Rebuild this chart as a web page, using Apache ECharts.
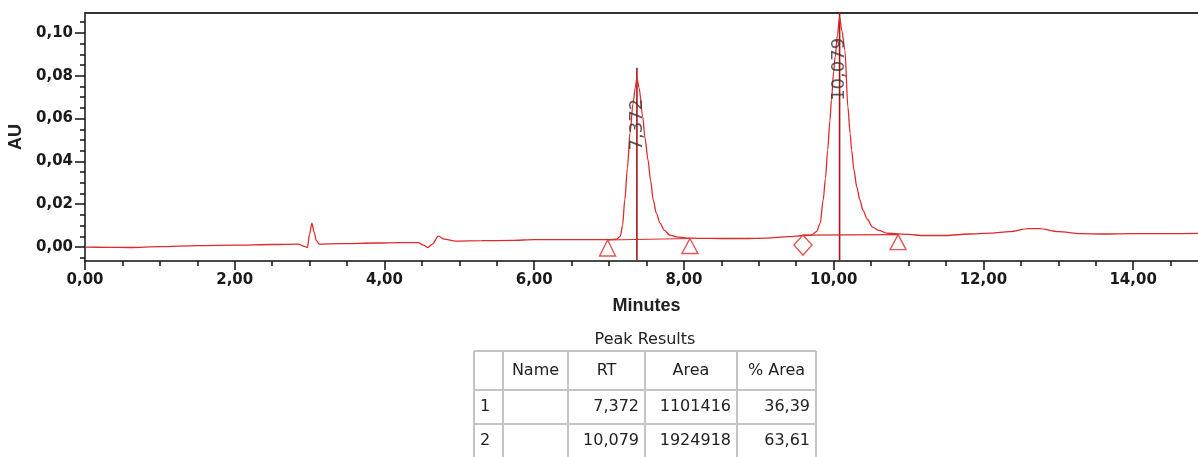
<!DOCTYPE html>
<html>
<head>
<meta charset="utf-8">
<script src="https://cdn.jsdelivr.net/npm/echarts@6/dist/echarts.min.js"></script>
<style>
  html, body { margin: 0; padding: 0; background: #ffffff; overflow: hidden; }
  #chart { width: 1198px; height: 457px; }
</style>
</head>
<body>
<div id="chart"></div>
<script>
// Detector trace: retention time (min) and absorbance (AU)
const traceTime = [
  0.00, 0.30, 0.60, 1.00, 1.50, 2.00, 2.50, 2.85, 2.93, 2.97,
  3.00, 3.03, 3.06, 3.09, 3.13, 3.40, 3.90, 4.20, 4.45, 4.52,
  4.58, 4.64, 4.72, 4.80, 4.95, 5.30, 5.70, 6.00, 6.50, 7.00,
  7.10, 7.15, 7.18, 7.21, 7.245, 7.28, 7.32, 7.35, 7.372, 7.40,
  7.45, 7.48, 7.52, 7.555, 7.59, 7.63, 7.68, 7.74, 7.81, 7.90,
  8.04, 8.20, 8.50, 8.80, 9.10, 9.40, 9.60, 9.70, 9.77, 9.82,
  9.86, 9.89, 9.92, 9.95, 9.97, 10.00, 10.02, 10.05, 10.079, 10.11,
  10.15, 10.19, 10.22, 10.24, 10.27, 10.31, 10.35, 10.39, 10.45, 10.52,
  10.60, 10.71, 10.85, 11.00, 11.20, 11.50, 11.80, 12.10, 12.35, 12.60,
  12.75, 13.00, 13.30, 13.60, 14.00, 14.50, 15.00
];
const traceAU = [
  0.0000, -0.0001, -0.0002, 0.0002, 0.0007, 0.0009, 0.0012, 0.0014, 0.0003, -0.0002,
  0.0060, 0.0112, 0.0070, 0.0030, 0.0014, 0.0016, 0.0019, 0.0021, 0.0021, 0.0009,
  -0.0002, 0.0014, 0.0051, 0.0037, 0.0028, 0.0030, 0.0031, 0.0035, 0.0035, 0.0035,
  0.0037, 0.0050, 0.0100, 0.0220, 0.0370, 0.0533, 0.0670, 0.0745, 0.0790, 0.0745,
  0.0607, 0.0510, 0.0407, 0.0310, 0.0220, 0.0160, 0.0112, 0.0078, 0.0056, 0.0048,
  0.0042, 0.0041, 0.0040, 0.0040, 0.0042, 0.0049, 0.0054, 0.0056, 0.0072, 0.0110,
  0.0220, 0.0320, 0.0453, 0.0590, 0.0687, 0.0820, 0.0888, 0.0990, 0.1075, 0.1010,
  0.0920, 0.0654, 0.0530, 0.0453, 0.0360, 0.0280, 0.0220, 0.0173, 0.0130, 0.0093,
  0.0078, 0.0065, 0.0062, 0.0059, 0.0054, 0.0054, 0.0061, 0.0065, 0.0072, 0.0086,
  0.0086, 0.0072, 0.0063, 0.0061, 0.0063, 0.0063, 0.0065
];

// Integrated peaks
const peakRT = [7.372, 10.079];
const peakApex = [0.0790, 0.1075];
const peakArea = [1101416, 1924918];
const peakPctArea = [36.39, 63.61];

// Integration baseline of each peak (start / end points) and start marker shape
const baseStartTime = [6.98, 9.59];
const baseStartAU = [0.0033, 0.0056];
const baseEndTime = [8.08, 10.86];
const baseEndAU = [0.0040, 0.0058];
const baseStartSymbol = ['triangle', 'diamond'];

// Axis ranges and ticks
const xMin = 0, xMax = 15;
const yMin = -0.0065, yMax = 0.1093;
const xMajorTicks = [0, 2, 4, 6, 8, 10, 12, 14];
const yMajorTicks = [0, 0.02, 0.04, 0.06, 0.08, 0.10];

// Table
const tableTitle = 'Peak Results';
const tableHeaders = ['', 'Name', 'RT', 'Area', '% Area'];

const RED = '#dd2a2a';
const DARK_RED = '#a81616';
const TICK_FONT = '"DejaVu Sans", sans-serif';
const NAME_FONT = '"Liberation Sans", Arial, sans-serif';

const comma = (v, d) => v.toFixed(d).replace('.', ',');

// minor ticks: every 0.5 min and every 0.005 AU, skipping the major ones
const xMinorTicks = [];
for (let i = 1; i * 0.5 < xMax; i++) if (i % 4 !== 0) xMinorTicks.push(i * 0.5);
const yMinorTicks = [];
for (let i = -1; i * 0.005 < yMax; i++) if (i % 4 !== 0) yMinorTicks.push(+(i * 0.005).toFixed(3));

const chart = echarts.init(document.getElementById('chart'), null, { renderer: 'canvas' });

const axisLineStyle = { color: '#111', width: 1.5 };
const tickLabelStyle = { fontFamily: TICK_FONT, fontWeight: 'bold', fontSize: 15, color: '#1a1a1a' };

const series = [];
series.push({
  name: 'trace', type: 'line', xAxisIndex: 0, yAxisIndex: 0,
  data: traceTime.map((t, i) => [t, traceAU[i]]),
  showSymbol: false, smooth: 0.3, smoothMonotone: 'x',
  lineStyle: { color: RED, width: 1.3 }, z: 4, silent: true
});

peakRT.forEach((rt, i) => {
  // retention-time marker line
  series.push({
    type: 'line', xAxisIndex: 0, yAxisIndex: 0, clip: true, silent: true,
    data: [[rt, yMin], [rt, peakApex[i] + 0.0047]],
    showSymbol: false, lineStyle: { color: DARK_RED, width: 1.6 }, z: 3
  });
  // integration baseline
  series.push({
    type: 'line', xAxisIndex: 0, yAxisIndex: 0, silent: true,
    data: [[baseStartTime[i], baseStartAU[i]], [baseEndTime[i], baseEndAU[i]]],
    showSymbol: false, lineStyle: { color: RED, width: 1.2 }, z: 3
  });
  // start / end markers hanging below the baseline points
  series.push({
    type: 'scatter', xAxisIndex: 0, yAxisIndex: 0, silent: true,
    data: [
      { value: [baseStartTime[i], baseStartAU[i]], symbol: baseStartSymbol[i],
        symbolSize: baseStartSymbol[i] === 'diamond' ? [18, 20] : [16, 16] },
      { value: [baseEndTime[i], baseEndAU[i]], symbol: 'triangle', symbolSize: [16, 15] }
    ],
    symbolOffset: [0, '50%'],
    itemStyle: { color: '#ffffff', borderColor: RED, borderWidth: 1.4 },
    z: 5
  });
  // rotated retention-time label, reading upwards and starting a little below the apex
  series.push({
    type: 'scatter', xAxisIndex: 0, yAxisIndex: 0, silent: true,
    data: [[rt, peakApex[i]]], symbolSize: 0,
    label: {
      show: true, position: 'inside', rotate: 90, align: 'right', verticalAlign: 'middle',
      offset: [-21, 0], formatter: () => comma(rt, 3),
      color: '#333333', fontFamily: TICK_FONT, fontSize: 18
    },
    z: 6
  });
});

// results table (layout in pixels below the plot)
const colX = [474, 503, 568, 645, 737, 816];
const rowY = [351, 390, 424, 458];
const tableFont = '16px ' + TICK_FONT;
const tableEls = [];
tableEls.push({
  type: 'text', x: (colX[0] + colX[colX.length - 1]) / 2, y: 340,
  style: { text: tableTitle, fill: '#222', font: tableFont, textAlign: 'center', textVerticalAlign: 'middle' }
});
colX.forEach(x => tableEls.push({
  type: 'line', shape: { x1: x, y1: rowY[0], x2: x, y2: rowY[rowY.length - 1] },
  style: { stroke: '#c4c4c4', lineWidth: 2 }
}));
rowY.forEach(y => tableEls.push({
  type: 'line', shape: { x1: colX[0], y1: y, x2: colX[colX.length - 1], y2: y },
  style: { stroke: '#c4c4c4', lineWidth: 2 }
}));
tableHeaders.forEach((h, c) => {
  if (!h) return;
  tableEls.push({
    type: 'text', x: (colX[c] + colX[c + 1]) / 2, y: (rowY[0] + rowY[1]) / 2,
    style: { text: h, fill: '#222', font: tableFont, textAlign: 'center', textVerticalAlign: 'middle' }
  });
});
peakRT.forEach((rt, r) => {
  const cy = (rowY[r + 1] + rowY[r + 2]) / 2;
  const cells = [String(r + 1), '', comma(rt, 3), String(peakArea[r]), comma(peakPctArea[r], 2)];
  cells.forEach((txt, c) => {
    if (!txt) return;
    const left = c === 0;
    tableEls.push({
      type: 'text', x: left ? colX[c] + 6 : colX[c + 1] - 6, y: cy,
      style: { text: txt, fill: '#222', font: tableFont, textAlign: left ? 'left' : 'right', textVerticalAlign: 'middle' }
    });
  });
});

const option = {
  backgroundColor: '#ffffff',
  animation: false,
  // the time axis runs on a little past the right edge of the page
  grid: { left: 85, top: 13, right: -10, bottom: 196, containLabel: false, outerBoundsMode: 'none' },
  xAxis: [
    {
      type: 'value', position: 'bottom', min: xMin, max: xMax,
      name: 'Minutes', nameLocation: 'middle', nameGap: 36,
      nameTextStyle: { fontFamily: NAME_FONT, fontWeight: 'bold', fontSize: 18, color: '#222' },
      axisLine: { show: true, onZero: false, lineStyle: axisLineStyle },
      axisTick: { show: true, length: 9, lineStyle: { color: '#111', width: 1.5 }, customValues: xMajorTicks },
      axisLabel: Object.assign({ show: true, customValues: xMajorTicks, margin: 12, formatter: v => comma(v, 2) }, tickLabelStyle),
      splitLine: { show: false }
    },
    {
      type: 'value', position: 'bottom', min: xMin, max: xMax,
      axisLine: { show: false, onZero: false },
      axisTick: { show: true, length: 5, lineStyle: { color: '#111', width: 1.5 }, customValues: xMinorTicks },
      axisLabel: { show: false, customValues: xMinorTicks },
      splitLine: { show: false }
    },
    {
      type: 'value', position: 'top', min: xMin, max: xMax,
      axisLine: { show: true, onZero: false, lineStyle: { color: '#333', width: 2 } },
      axisTick: { show: false }, axisLabel: { show: false }, splitLine: { show: false }
    }
  ],
  yAxis: [
    {
      type: 'value', position: 'left', min: yMin, max: yMax,
      name: 'AU', nameLocation: 'middle', nameGap: 58, nameRotate: 90,
      nameTextStyle: { fontFamily: NAME_FONT, fontWeight: 'bold', fontSize: 18, color: '#222' },
      axisLine: { show: true, onZero: false, lineStyle: axisLineStyle },
      axisTick: { show: true, length: 10, lineStyle: { color: '#111', width: 1.5 }, customValues: yMajorTicks },
      axisLabel: Object.assign({ show: true, customValues: yMajorTicks, margin: 12, formatter: v => comma(v, 2) }, tickLabelStyle),
      splitLine: { show: false }
    },
    {
      type: 'value', position: 'left', min: yMin, max: yMax,
      axisLine: { show: false, onZero: false },
      axisTick: { show: true, length: 5, lineStyle: { color: '#111', width: 1.5 }, customValues: yMinorTicks },
      axisLabel: { show: false, customValues: yMinorTicks },
      splitLine: { show: false }
    }
  ],
  series: series,
  graphic: tableEls
};

chart.setOption(option);
</script>
</body>
</html>
